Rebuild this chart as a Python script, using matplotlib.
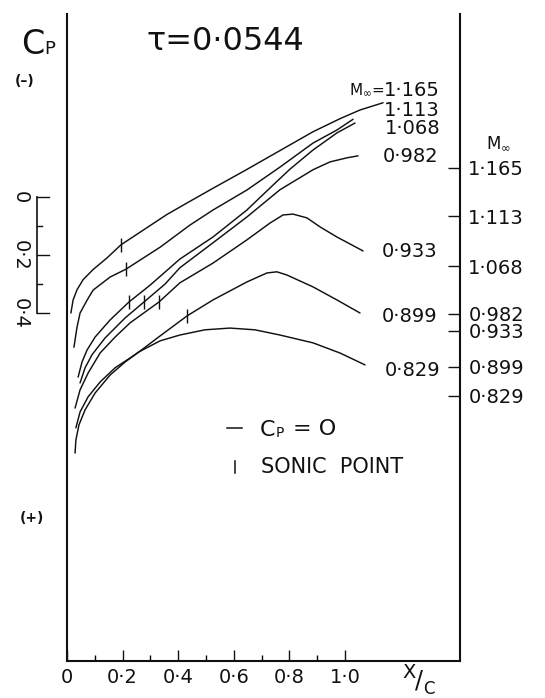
import numpy as np
import matplotlib
matplotlib.use("Agg")
import matplotlib.pyplot as plt
from matplotlib.lines import Line2D

plt.rcParams['font.family'] = ['DejaVu Sans']

# Free-stream Mach numbers of the seven pressure distributions
mach = [1.165, 1.113, 1.068, 0.982, 0.933, 0.899, 0.829]
mach_labels = ["1·165", "1·113", "1·068", "0·982", "0·933", "0·899", "0·829"]
# Cp = 0 datum of each curve (curves are staggered; datums marked on right axis)
datum = [-0.100, 0.066, 0.238, 0.403, 0.462, 0.586, 0.686]

# Surface pressure coefficient vs. chordwise position x/c for each Mach number
x_1165 = [0.014, 0.022, 0.036, 0.058, 0.094, 0.144, 0.194, 0.273, 0.360, 0.442, 0.525, 0.647, 0.766, 0.885, 0.982, 1.054, 1.137]
cp_1165 = [0.50, 0.455, 0.42, 0.385, 0.35, 0.31, 0.265, 0.215, 0.16, 0.115, 0.07, 0.005, -0.06, -0.125, -0.17, -0.20, -0.225]

x_1113 = [0.025, 0.036, 0.047, 0.072, 0.094, 0.155, 0.212, 0.335, 0.442, 0.525, 0.647, 0.766, 0.885, 0.971, 1.029]
cp_1113 = [0.452, 0.383, 0.334, 0.29, 0.255, 0.21, 0.183, 0.107, 0.031, -0.021, -0.09, -0.169, -0.252, -0.297, -0.334]

x_1068 = [0.040, 0.054, 0.072, 0.101, 0.155, 0.223, 0.299, 0.406, 0.525, 0.647, 0.741, 0.802, 0.885, 0.971, 1.036]
cp_1068 = [0.383, 0.331, 0.29, 0.245, 0.186, 0.124, 0.066, -0.024, -0.10, -0.193, -0.279, -0.334, -0.40, -0.459, -0.493]

x_0982 = [0.047, 0.065, 0.090, 0.137, 0.209, 0.277, 0.353, 0.406, 0.525, 0.647, 0.766, 0.885, 0.946, 1.007, 1.047]
cp_0982 = [0.238, 0.186, 0.141, 0.083, 0.014, -0.041, -0.103, -0.159, -0.245, -0.334, -0.428, -0.497, -0.524, -0.538, -0.545]

x_0933 = [0.029, 0.047, 0.076, 0.119, 0.173, 0.227, 0.331, 0.406, 0.525, 0.647, 0.730, 0.777, 0.813, 0.863, 0.910, 0.971, 1.065]
cp_0933 = [0.266, 0.203, 0.145, 0.076, 0.021, -0.028, -0.10, -0.166, -0.234, -0.314, -0.372, -0.40, -0.403, -0.39, -0.359, -0.324, -0.276]

x_0899 = [0.032, 0.047, 0.076, 0.119, 0.173, 0.227, 0.259, 0.335, 0.432, 0.525, 0.647, 0.719, 0.755, 0.791, 0.885, 0.971, 1.054]
cp_0899 = [0.21, 0.155, 0.103, 0.052, 0.003, -0.031, -0.052, -0.107, -0.176, -0.231, -0.293, -0.324, -0.328, -0.317, -0.276, -0.231, -0.186]

x_0829 = [0.029, 0.032, 0.043, 0.065, 0.101, 0.155, 0.209, 0.259, 0.335, 0.406, 0.496, 0.586, 0.676, 0.766, 0.885, 0.982, 1.072]
cp_0829 = [0.197, 0.152, 0.10, 0.048, -0.01, -0.072, -0.117, -0.152, -0.19, -0.21, -0.228, -0.234, -0.228, -0.21, -0.183, -0.148, -0.107]

# Chordwise position of the sonic point (none for the fully subsonic case)
sonic_x = [0.194, 0.212, 0.223, 0.277, 0.331, 0.432, None]

xs_all = [x_1165, x_1113, x_1068, x_0982, x_0933, x_0899, x_0829]
cps_all = [cp_1165, cp_1113, cp_1068, cp_0982, cp_0933, cp_0899, cp_0829]

xtick_vals = [0.0, 0.2, 0.4, 0.6, 0.8, 1.0]
xtick_labels = ["0", "0·2", "0·4", "0·6", "0·8", "1·0"]
scale_vals = [0.0, 0.2, 0.4]
scale_labels = ["0", "0·2", "0·4"]

W, H = 545, 698
fig = plt.figure(figsize=(W / 100, H / 100), dpi=100)
fig.patch.set_facecolor("white")


def fpos(px, py):
    return px / W, 1 - py / H


ax = fig.add_axes([67 / W, 37 / H, 393 / W, 647 / H])
ax.set_xlim(0, 393 / 278)
ax.set_ylim(1.6, -0.631)
ink = "#111111"
for s in ["left", "right", "bottom"]:
    ax.spines[s].set_linewidth(1.5)
    ax.spines[s].set_color(ink)
ax.spines["top"].set_visible(False)

# bottom axis: ticks pointing into the plot
ax.set_xticks(xtick_vals)
ax.set_xticklabels(xtick_labels, fontsize=14)
ax.set_xticks(np.arange(0.1, 1.0, 0.2), minor=True)
ax.tick_params(axis="x", which="major", direction="in", length=8, width=1.0, pad=5, colors=ink)
ax.tick_params(axis="x", which="minor", direction="in", length=4, width=1.0)

# right axis: Cp = 0 datum of each curve
ax.yaxis.tick_right()
ax.set_yticks(datum)
ax.set_yticklabels(mach_labels, fontsize=14)
ax.tick_params(axis="y", which="major", direction="in", length=9, width=1.0, pad=6, colors=ink)
ax.yaxis.set_minor_locator(matplotlib.ticker.NullLocator())

# pressure distributions
for xv, cv, d, sx in zip(xs_all, cps_all, datum, sonic_x):
    xv = np.asarray(xv)
    cv = np.asarray(cv)
    ax.plot(xv, cv + d, color=ink, lw=1.05, solid_capstyle="round", solid_joinstyle="round")
    if sx is not None:
        ax.plot([sx], [np.interp(sx, xv, cv) + d], marker="|", ms=10, mew=1.0, color=ink, ls="none")

# Cp scale bracket on the left
xb = -30 / 278
ax.plot([xb, xb], [scale_vals[0], scale_vals[-1]], color=ink, lw=1.2, clip_on=False)
for v in np.arange(0.0, 0.41, 0.1):
    long_tick = round(v * 10) % 2 == 0
    ax.plot([xb, xb + (12 if long_tick else 5) / 278], [v, v], color=ink, lw=1.0, clip_on=False)
for v, lab in zip(scale_vals, scale_labels):
    ax.text(-47 / 278, v, lab, rotation=-90, ha="center", va="center", fontsize=14, color=ink, clip_on=False)

# curve labels
curve_label_pos = [(412, 90), (412, 110), (413, 129), (411, 157), (410, 252), (410, 317), (413, 370)]
for (px, py), lab in zip(curve_label_pos, mach_labels):
    fig.text(*fpos(px, py), lab, ha="center", va="center", fontsize=14, color=ink)
fig.text(*fpos(367, 90), r"M$_\infty$=", ha="center", va="center", fontsize=11, color=ink)
fig.text(*fpos(498, 143), r"M$_\infty$", ha="center", va="center", fontsize=12, color=ink)

# axis annotations
fig.text(*fpos(33, 45), "C", ha="center", va="center", fontsize=24, color=ink)
fig.text(*fpos(50, 49), "P", ha="center", va="center", fontsize=13, color=ink)
fig.text(*fpos(25, 81), "(–)", ha="center", va="center", fontsize=10, color=ink, fontweight="bold")
fig.text(*fpos(32, 518), "(+)", ha="center", va="center", fontsize=10, color=ink, fontweight="bold")
fig.text(*fpos(225, 42), "τ=0·0544", ha="center", va="center", fontsize=23, color=ink)

# x/c label
fig.text(*fpos(409, 672), "X", ha="center", va="center", fontsize=14, color=ink)
fig.text(*fpos(419, 680), "/", ha="center", va="center", fontsize=17, color=ink)
fig.text(*fpos(429, 689), "C", ha="center", va="center", fontsize=12, color=ink)

# legend
(x0, y0), (x1, _) = fpos(227, 428), fpos(242, 428)
fig.add_artist(Line2D([x0, x1], [y0, y0], color=ink, lw=1.1))
(xs0, ys0), (_, ys1) = fpos(235, 461), fpos(235, 473)
fig.add_artist(Line2D([xs0, xs0], [ys0, ys1], color=ink, lw=1.1))
fig.text(*fpos(260, 430), "C", ha="left", va="center", fontsize=16, color=ink)
fig.text(*fpos(276, 433), "P", ha="left", va="center", fontsize=10, color=ink)
fig.text(*fpos(293, 429), "= O", ha="left", va="center", fontsize=16, color=ink)
fig.text(*fpos(261, 467), "SONIC  POINT", ha="left", va="center", fontsize=15, color=ink)

fig.savefig("out.png", dpi=100, facecolor="white")
